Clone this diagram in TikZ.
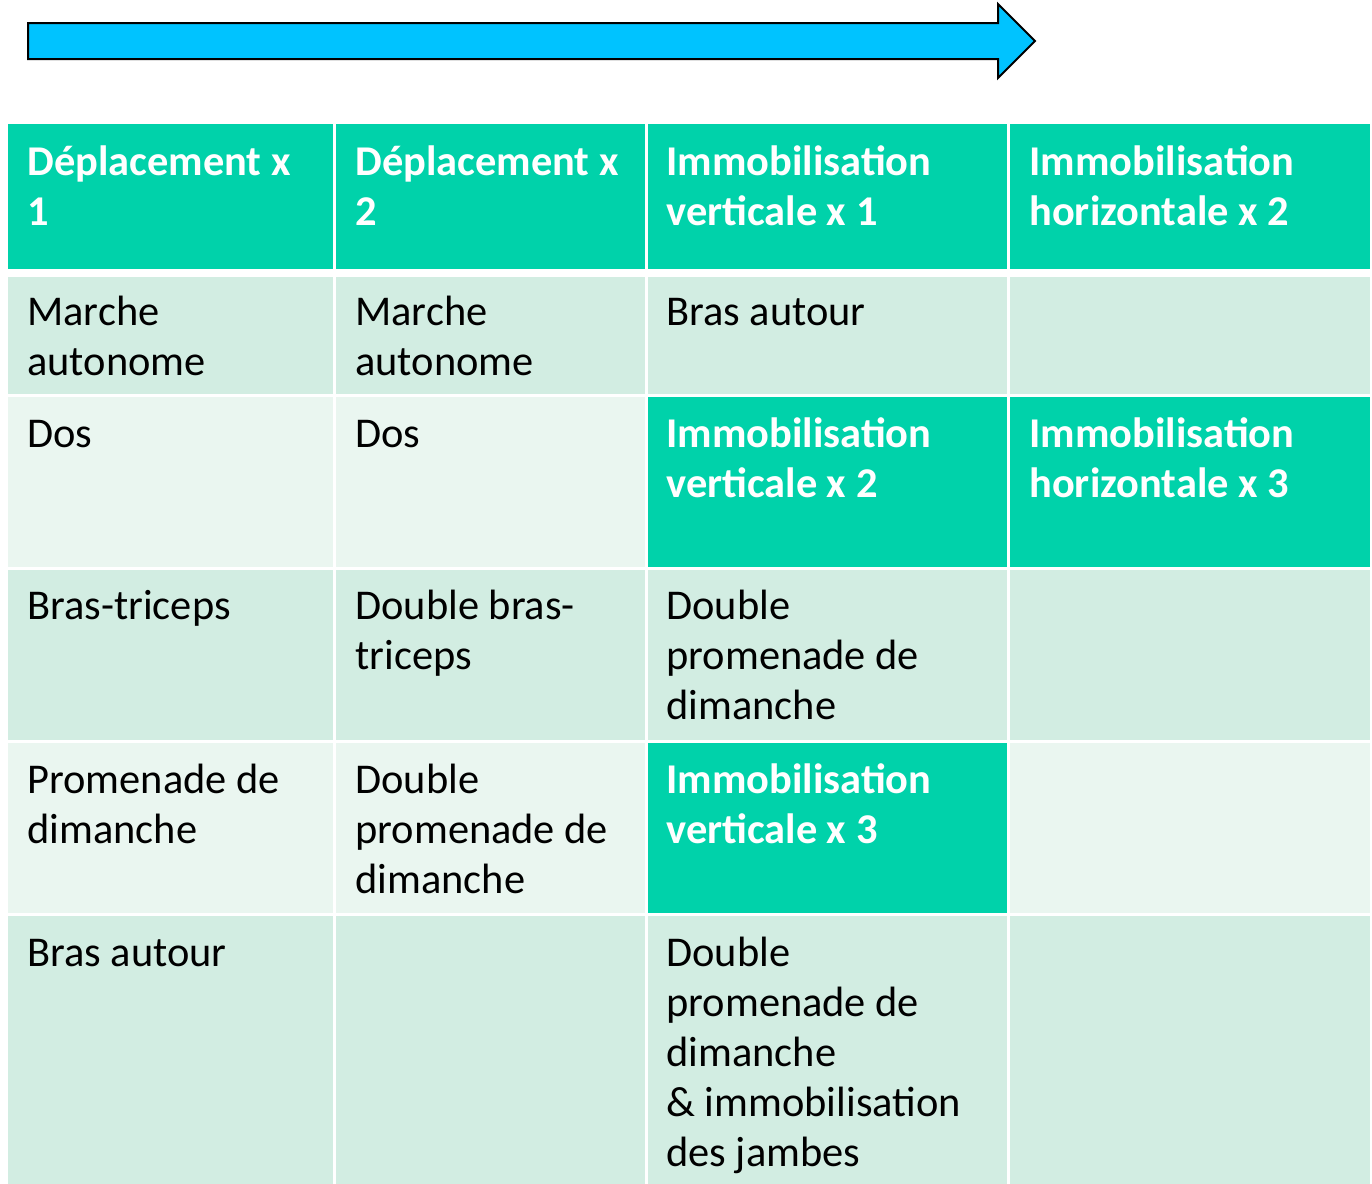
\documentclass[tikz,border=0pt]{standalone}
\usepackage{fontspec}
\setmainfont{Carlito}
\definecolor{arrowblue}{HTML}{00C3FF}
\definecolor{headteal}{HTML}{00D2AA}
\definecolor{rowlight}{HTML}{D2EDE2}
\definecolor{rowpale}{HTML}{EAF6F0}
\newcommand{\lines}[1]{\begin{tabular}[t]{@{}l@{}}#1\end{tabular}}
\begin{document}
\begin{tikzpicture}[x=0.5pt,y=-0.5pt,
  txt/.style={anchor=base west, inner sep=0pt, text=black,
    font=\fontsize{21.2}{25}\selectfont},
  hdr/.style={txt, text=white, font=\fontsize{21.2}{25}\selectfont\bfseries},
  progress/.style={fill=arrowblue, draw=black, line width=1pt, line join=miter}]
\useasboundingbox (0,0) rectangle (1372,1184);

% progression arrow
\draw[progress] (28,23) -- (998,23) -- (998,4) -- (1035,41) -- (998,78)
  -- (998,59) -- (28,59) -- cycle;

% header row
\fill[headteal] (8,124) rectangle (333,269);
\fill[headteal] (336,124) rectangle (645,269);
\fill[headteal] (648,124) rectangle (1007,269);
\fill[headteal] (1010,124) rectangle (1370,269);
% row 1
\fill[rowlight] (8,277) rectangle (333,394);
\fill[rowlight] (336,277) rectangle (645,394);
\fill[rowlight] (648,277) rectangle (1007,394);
\fill[rowlight] (1010,277) rectangle (1370,394);
% row 2
\fill[rowpale] (8,397) rectangle (333,567);
\fill[rowpale] (336,397) rectangle (645,567);
\fill[headteal] (648,397) rectangle (1007,567);
\fill[headteal] (1010,397) rectangle (1370,567);
% row 3
\fill[rowlight] (8,570) rectangle (333,740);
\fill[rowlight] (336,570) rectangle (645,740);
\fill[rowlight] (648,570) rectangle (1007,740);
\fill[rowlight] (1010,570) rectangle (1370,740);
% row 4
\fill[rowpale] (8,743) rectangle (333,913);
\fill[rowpale] (336,743) rectangle (645,913);
\fill[headteal] (648,743) rectangle (1007,913);
\fill[rowpale] (1010,743) rectangle (1370,913);
% row 5
\fill[rowlight] (8,916) rectangle (333,1184);
\fill[rowlight] (336,916) rectangle (645,1184);
\fill[rowlight] (648,916) rectangle (1007,1184);
\fill[rowlight] (1010,916) rectangle (1370,1184);

% header texts
\node[hdr] (h1) at (27,175) {\lines{Déplacement x\\1}};
\node[hdr] (h2) at (355,175) {\lines{Déplacement x\\2}};
\node[hdr] (h3) at (666,175) {\lines{Immobilisation\\verticale x 1}};
\node[hdr] (h4) at (1029,175) {\lines{Immobilisation\\horizontale x 2}};

% row 1
\node[txt] (a1) at (27,325) {\lines{Marche\\autonome}};
\node[txt] (a2) at (355,325) {\lines{Marche\\autonome}};
\node[txt] (a3) at (666,325) {\lines{Bras autour}};

% row 2
\node[txt] (b1) at (27,447) {\lines{Dos}};
\node[txt] (b2) at (355,447) {\lines{Dos}};
\node[hdr] (b3) at (666,447) {\lines{Immobilisation\\verticale x 2}};
\node[hdr] (b4) at (1029,447) {\lines{Immobilisation\\horizontale x 3}};

% row 3
\node[txt] (c1) at (27,619) {\lines{Bras-triceps}};
\node[txt] (c2) at (355,619) {\lines{Double bras-\\triceps}};
\node[txt] (c3) at (666,619) {\lines{Double\\promenade de\\dimanche}};

% row 4
\node[txt] (d1) at (27,793) {\lines{Promenade de\\dimanche}};
\node[txt] (d2) at (355,793) {\lines{Double\\promenade de\\dimanche}};
\node[hdr] (d3) at (666,793) {\lines{Immobilisation\\verticale x 3}};

% row 5
\node[txt] (e1) at (27,966) {\lines{Bras autour}};
\node[txt] (e3) at (666,966) {\lines{Double\\promenade de\\dimanche\\\& immobilisation\\des jambes}};
\end{tikzpicture}
\end{document}
